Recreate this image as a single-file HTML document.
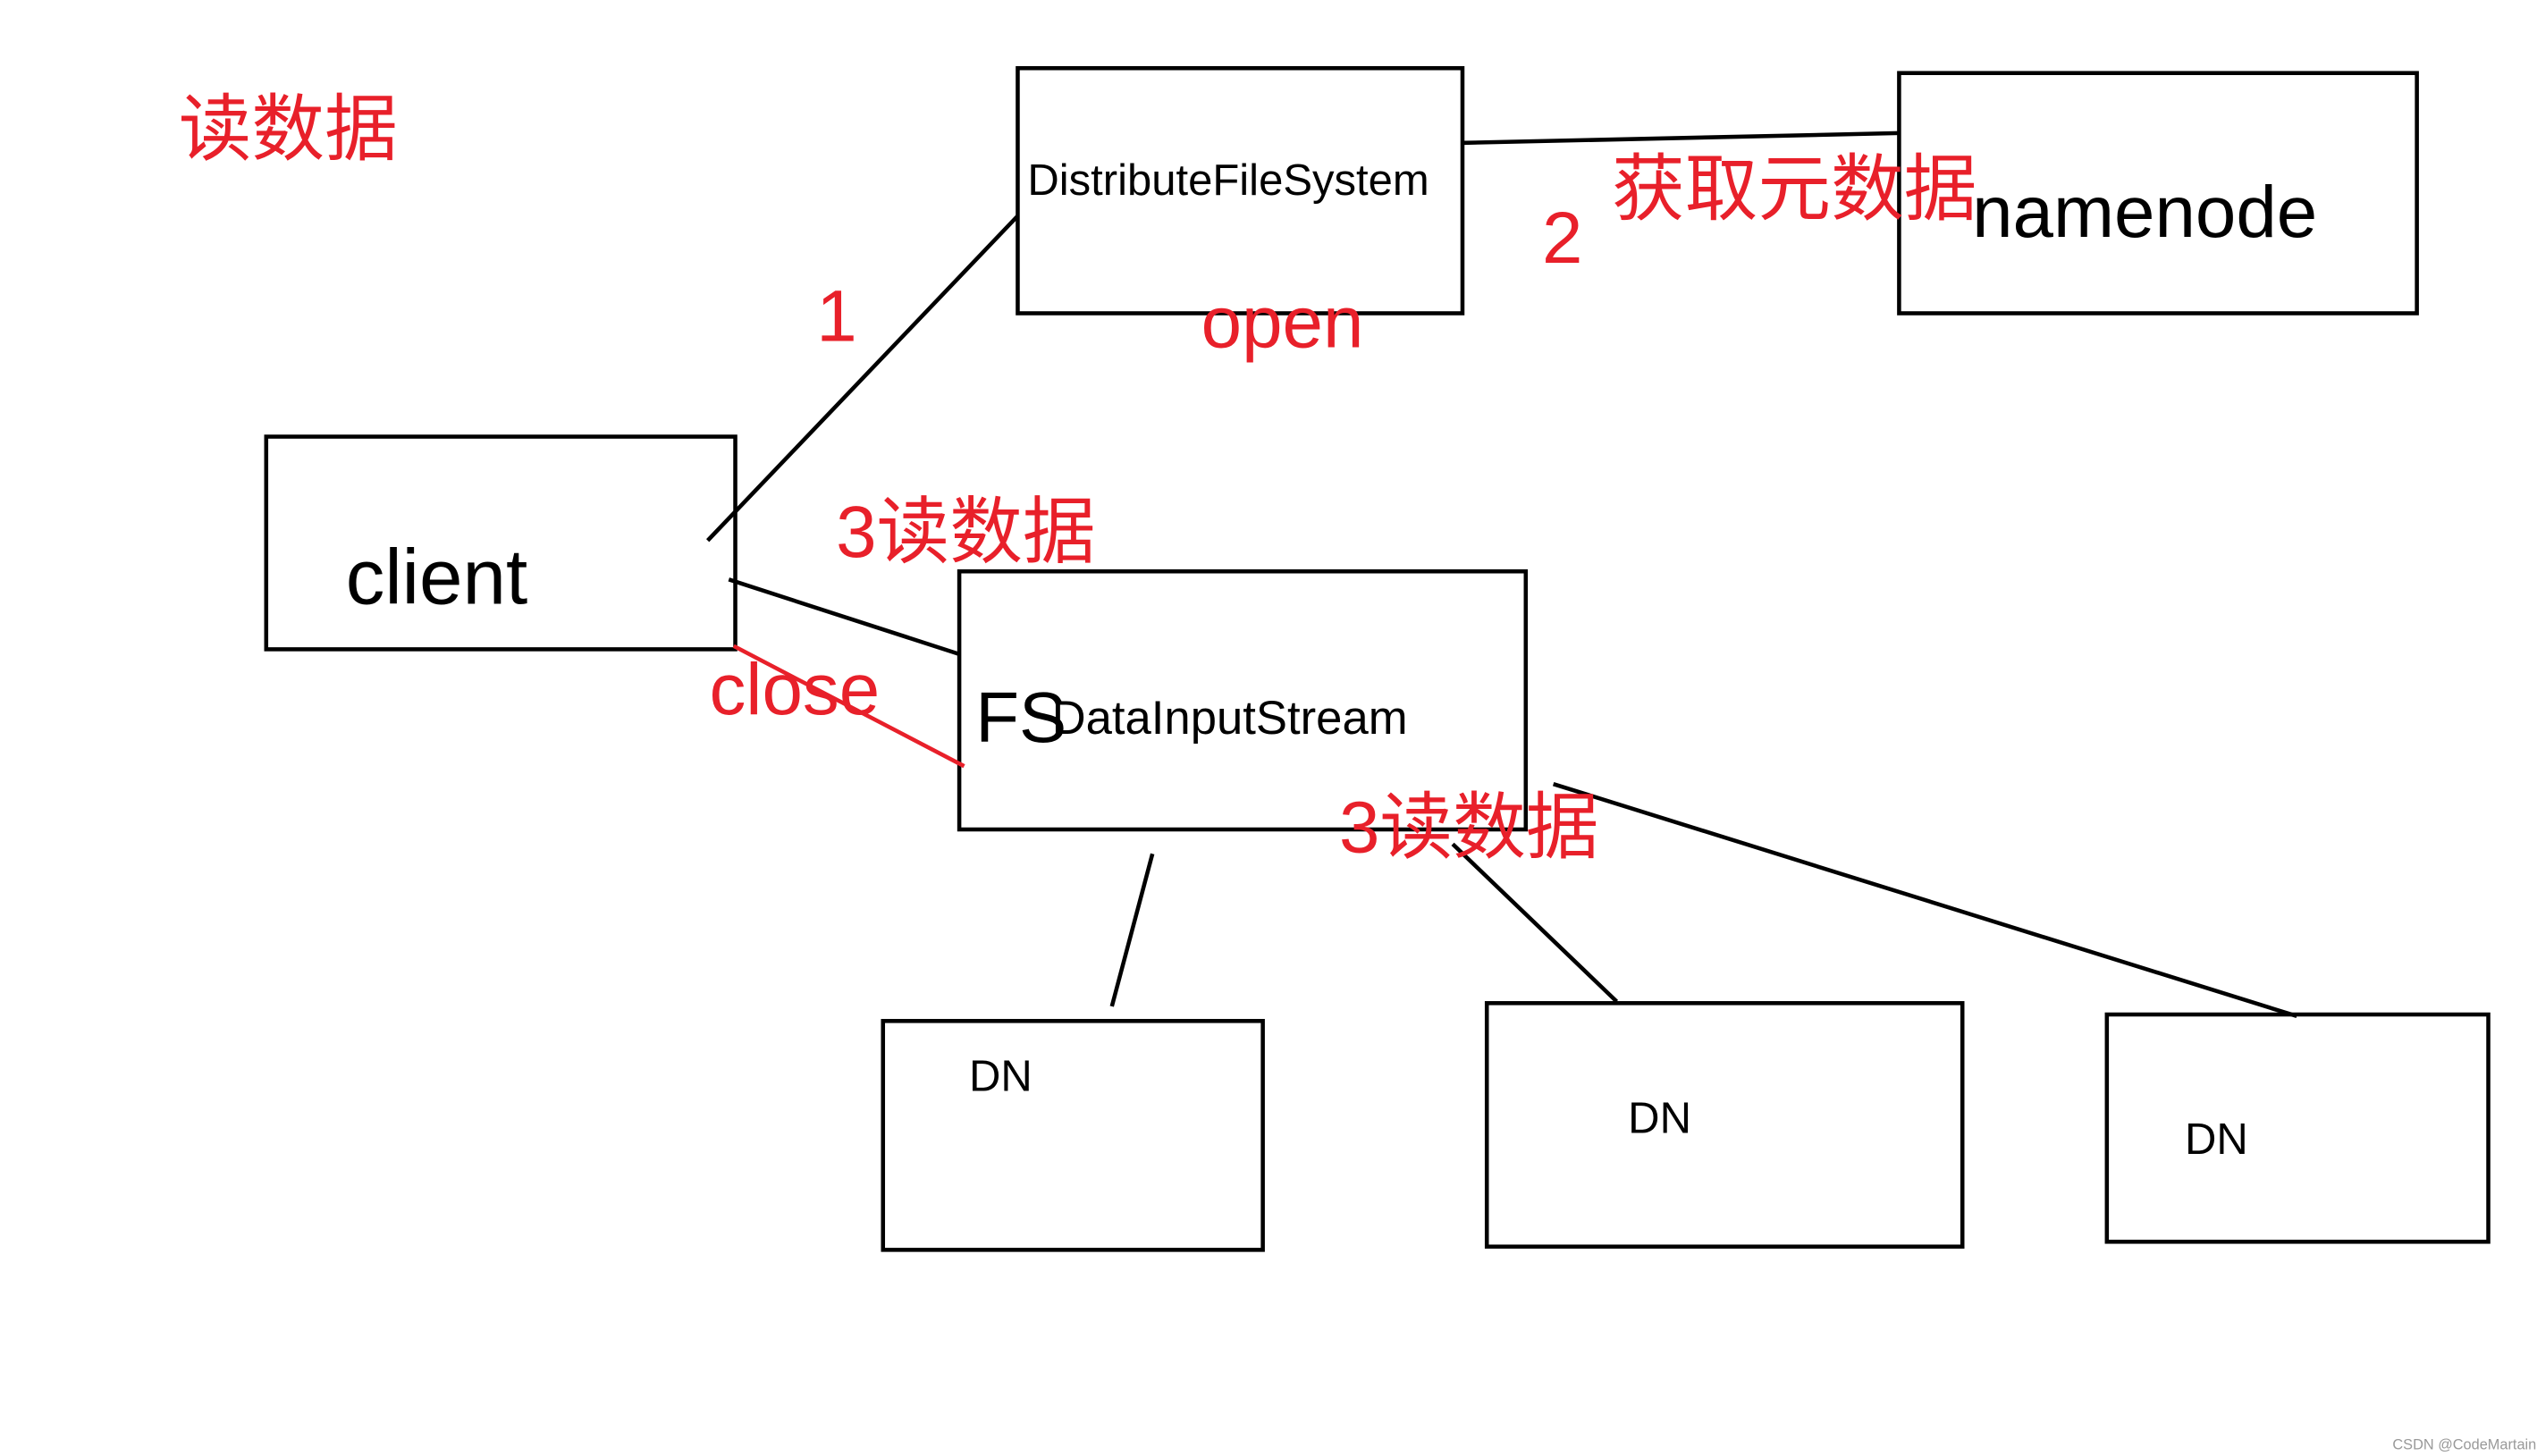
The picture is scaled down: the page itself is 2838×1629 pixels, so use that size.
<!DOCTYPE html>
<html><head><meta charset="utf-8"><style>
html,body{margin:0;padding:0;background:#fff;}
svg{display:block;}
text{font-family:"Liberation Sans","Noto Sans CJK SC",sans-serif;}
</style></head><body>
<svg width="2838" height="1629" viewBox="0 0 1563 897" preserveAspectRatio="none" xmlns="http://www.w3.org/2000/svg">
<rect width="1563" height="897" fill="#fff"/>
<g fill="none" stroke="#000" stroke-width="2.5">
<rect x="627" y="42" width="274" height="151"/>
<rect x="1170" y="45" width="319" height="148"/>
<rect x="164" y="269" width="289" height="131"/>
<rect x="591" y="352" width="349" height="159"/>
<rect x="544" y="629" width="234" height="141"/>
<rect x="916" y="618" width="293" height="150"/>
<rect x="1298" y="625" width="235" height="140"/>
<line x1="902" y1="88" x2="1170" y2="82"/>
<line x1="436" y1="333" x2="627" y2="133"/>
<line x1="449" y1="357" x2="591" y2="403"/>
<line x1="710" y1="526" x2="685" y2="620"/>
<line x1="895" y1="520" x2="996" y2="617"/>
<line x1="957" y1="483" x2="1415" y2="626"/>
</g>
<line x1="452" y1="398" x2="594" y2="472" stroke="#e8202a" stroke-width="2.5"/>
<g fill="#000">
<text x="633" y="120" font-size="27">DistributeFileSystem</text>
<text x="1215" y="146" font-size="45">namenode</text>
<text x="213" y="372" font-size="48">client</text>
<text x="601" y="457" font-size="44">FS</text>
<text x="648" y="452" font-size="29">DataInputStream</text>
<text x="597" y="672" font-size="27">DN</text>
<text x="1003" y="698" font-size="27">DN</text>
<text x="1346" y="711" font-size="27">DN</text>
</g>
<g fill="#e8202a">
<text x="110" y="95" font-size="45">读数据</text>
<text x="950" y="162" font-size="45">2</text>
<text x="993" y="132" font-size="45">获取元数据</text>
<text x="740" y="214" font-size="45">open</text>
<text x="503" y="210" font-size="45">1</text>
<text x="515" y="343" font-size="45">3读数据</text>
<text x="437" y="440" font-size="45">close</text>
<text x="825" y="525" font-size="45">3读数据</text>
</g>
<text x="1474" y="893" font-size="9" fill="#999">CSDN @CodeMartain</text>
</svg>
</body></html>
